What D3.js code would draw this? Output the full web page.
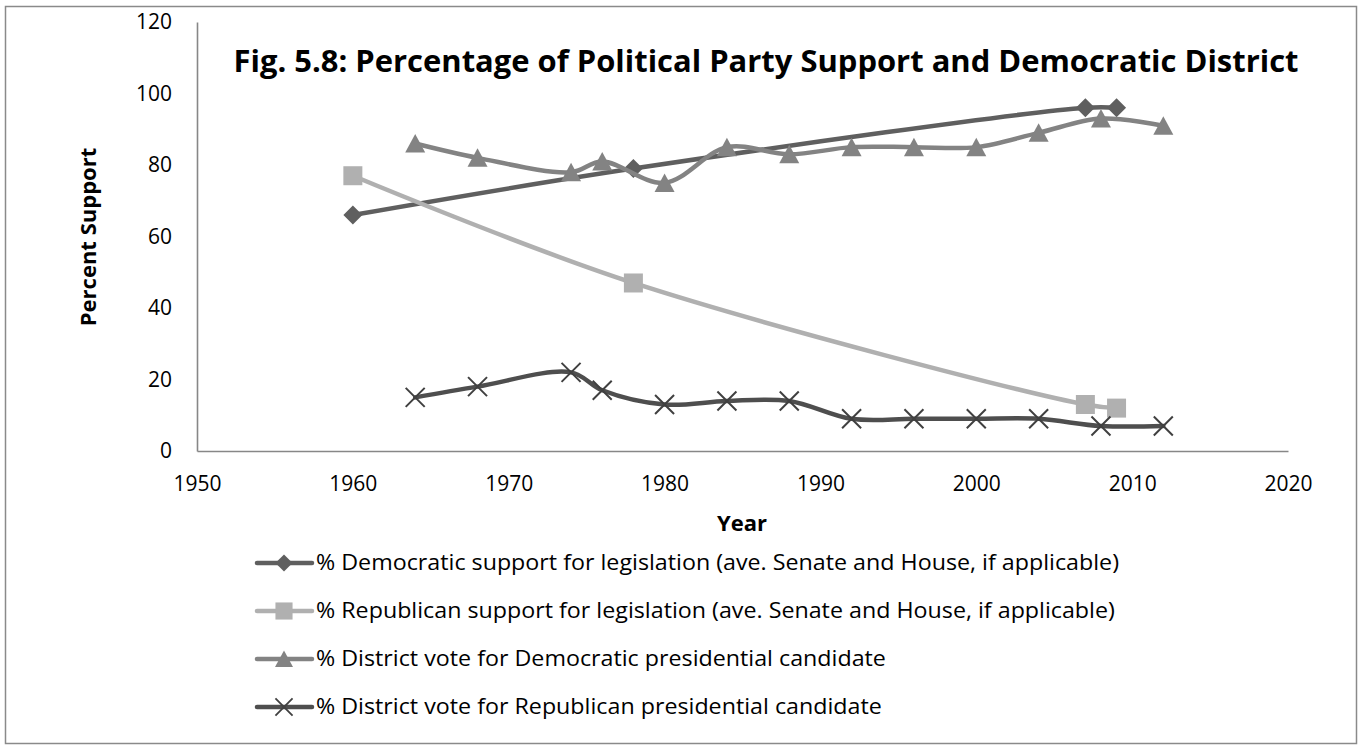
<!DOCTYPE html>
<meta charset="utf-8">
<style>
  body { margin: 0; background: #fff; }
  text { font-family: "Open Sans", sans-serif; fill: #000; }
</style>
<svg width="1364" height="751"></svg>
<script src="https://d3js.org/d3.v7.min.js"></script>
<script>

  // values
  var legislationYears = [1960, 1978, 2007, 2009];
  var demLegislation = [66, 79, 96, 96];
  var repLegislation = [77, 47, 13, 12];

  var electionYears = [1964, 1968, 1974, 1976, 1980, 1984, 1988, 1992, 1996, 2000, 2004, 2008, 2012];
  var demDistrict = [86, 82, 78, 81, 75, 85, 83, 85, 85, 85, 89, 93, 91];
  var repDistrict = [15, 18, 22, 17, 13, 14, 14, 9, 9, 9, 9, 7, 7];

  var xTicks = [1950, 1960, 1970, 1980, 1990, 2000, 2010, 2020];
  var yTicks = [0, 20, 40, 60, 80, 100, 120];

  var seriesNames = [
    "% Democratic support for legislation (ave. Senate and House, if applicable)",
    "% Republican support for legislation (ave. Senate and House, if applicable)",
    "% District vote for Democratic presidential candidate",
    "% District vote for Republican presidential candidate"
  ];

  var svg = d3.select("svg");

  var x = d3.scaleLinear().domain([1950, 2020]).range([197, 1288]);
  var y = d3.scaleLinear().domain([0, 120]).range([451, 22]);

  // marker shapes, centred on 0,0
  var shapes = {
    diamond: "M0,-9.5L9.5,0L0,9.5L-9.5,0Z",
    square: "M-9.5,-9.5H9.5V9.5H-9.5Z",
    triangle: "M0,-9.5L10,9L-10,9Z",
    cross: "M-9.5,-9.5L9.5,9.5M9.5,-9.5L-9.5,9.5"
  };

  function zip(xs, ys) {
    return xs.map(function (d, i) { return { year: d, value: ys[i] }; });
  }

  var series = [
    { name: seriesNames[0], data: zip(legislationYears, demLegislation), color: "#5f5f5f", marker: "diamond", markColor: "#5f5f5f" },
    { name: seriesNames[1], data: zip(legislationYears, repLegislation), color: "#b0b0b0", marker: "square", markColor: "#b0b0b0" },
    { name: seriesNames[2], data: zip(electionYears, demDistrict), color: "#838383", marker: "triangle", markColor: "#838383" },
    { name: seriesNames[3], data: zip(electionYears, repDistrict), color: "#4e4e4e", marker: "cross", markColor: "#404040" }
  ];

  // outer frame
  svg.append("rect")
    .attr("x", 5.5).attr("y", 6.5)
    .attr("width", 1351).attr("height", 737)
    .attr("fill", "none")
    .attr("stroke", "#8a8a8a")
    .attr("stroke-width", 1.5);

  // axes
  var yAxis = svg.append("g")
    .attr("transform", "translate(197,0)")
    .call(d3.axisLeft(y).tickValues(yTicks).tickSize(0).tickPadding(25));

  var xAxis = svg.append("g")
    .attr("transform", "translate(0,451)")
    .call(d3.axisBottom(x).tickValues(xTicks).tickFormat(d3.format("d")).tickSize(0).tickPadding(25));

  [yAxis, xAxis].forEach(function (g) {
    g.select(".domain").attr("stroke", "#878787").attr("stroke-width", 1.6);
    g.selectAll("text").attr("font-size", 21).attr("fill", "#000")
      .style("font-family", "'Open Sans', sans-serif");
  });

  // title and axis titles
  svg.append("text")
    .attr("x", 766).attr("y", 72)
    .attr("text-anchor", "middle")
    .attr("font-size", 30).attr("font-weight", "bold")
    .attr("textLength", 1065).attr("lengthAdjust", "spacingAndGlyphs")
    .text("Fig. 5.8: Percentage of Political Party Support and Democratic District");

  svg.append("text")
    .attr("transform", "translate(96,237) rotate(-90)")
    .attr("text-anchor", "middle")
    .attr("font-size", 22).attr("font-weight", "bold")
    .text("Percent Support");

  svg.append("text")
    .attr("x", 742).attr("y", 531)
    .attr("text-anchor", "middle")
    .attr("font-size", 22).attr("font-weight", "bold")
    .text("Year");

  // lines and markers, one series after another
  var line = d3.line()
    .curve(d3.curveCatmullRom.alpha(0.5))
    .x(function (d) { return x(d.year); })
    .y(function (d) { return y(d.value); });

  function drawMarker(sel, s) {
    sel.attr("d", shapes[s.marker]);
    if (s.marker === "cross") {
      sel.attr("fill", "none").attr("stroke", s.markColor).attr("stroke-width", 2);
    } else {
      sel.attr("fill", s.markColor).attr("stroke", "none");
    }
  }

  series.forEach(function (s) {
    var g = svg.append("g");
    g.append("path")
      .datum(s.data)
      .attr("d", line)
      .attr("fill", "none")
      .attr("stroke", s.color)
      .attr("stroke-width", 4.5)
      .attr("stroke-linecap", "round")
      .attr("stroke-linejoin", "round");
    g.selectAll(".mark")
      .data(s.data)
      .join("path")
      .attr("class", "mark")
      .attr("transform", function (d) { return "translate(" + x(d.year) + "," + y(d.value) + ")"; })
      .call(drawMarker, s);
  });

  // legend
  var legend = svg.append("g");
  var rowY = d3.scalePoint().domain(d3.range(series.length)).range([563, 707]);

  var labels = [];
  series.forEach(function (s, i) {
    var row = legend.append("g").attr("transform", "translate(0," + rowY(i) + ")");
    row.append("line")
      .attr("x1", 257).attr("x2", 312)
      .attr("stroke", s.color)
      .attr("stroke-width", 4.5)
      .attr("stroke-linecap", "round");
    row.append("path")
      .attr("transform", "translate(284,0) scale(0.9)")
      .call(drawMarker, s);
    labels.push(row.append("text")
      .attr("x", 316).attr("y", 7)
      .attr("font-size", 21)
      .text(s.name));
  });

  // squeeze legend text a little so the first row ends where it does in the figure
  var squeeze = 803 / labels[0].node().getComputedTextLength();
  labels.forEach(function (t) {
    t.attr("textLength", t.node().getComputedTextLength() * squeeze)
      .attr("lengthAdjust", "spacingAndGlyphs");
  });

</script>
